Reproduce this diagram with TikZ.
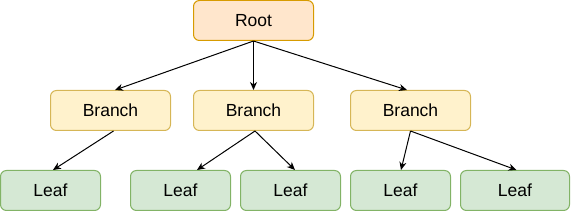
\documentclass[tikz,border=0pt]{standalone}
\usepackage{fontspec}
\setmainfont{Liberation Sans}
\usetikzlibrary{arrows.meta}
\definecolor{rootfill}{HTML}{FFE6CC}
\definecolor{rootdraw}{HTML}{D79B00}
\definecolor{brfill}{HTML}{FFF2CC}
\definecolor{brdraw}{HTML}{D6B656}
\definecolor{lffill}{HTML}{D5E8D4}
\definecolor{lfdraw}{HTML}{82B366}
\tikzset{
  box/.style={rectangle, rounded corners=6pt, line width=1pt, minimum height=40pt, inner sep=0pt, font=\fontsize{17.5}{20}\selectfont},
  rootbox/.style={box, fill=rootfill, draw=rootdraw, minimum width=120pt},
  branchbox/.style={box, fill=brfill, draw=brdraw, minimum width=120pt},
  leafbox/.style={box, fill=lffill, draw=lfdraw, minimum width=100pt},
  conn/.style={line width=1pt, -{Stealth[length=8pt,width=7pt,inset=2.5pt]}}
}
\begin{document}
\begin{tikzpicture}[x=1pt,y=-1pt]
\useasboundingbox (0,0) rectangle (571,211);
\node[rootbox] (root) at (253.5,20.5) {Root};
\node[branchbox] (b1) at (110.5,110.5) {Branch};
\node[branchbox] (b2) at (253.5,110.5) {Branch};
\node[branchbox] (b3) at (410.5,110.5) {Branch};
\node[leafbox] (l1) at (50.5,190.5) {Leaf};
\node[leafbox] (l2) at (180.5,190.5) {Leaf};
\node[leafbox] (l3) at (290.5,190.5) {Leaf};
\node[leafbox] (l4) at (400.5,190.5) {Leaf};
\node[leafbox, minimum width=109pt] (l5) at (515,190.5) {Leaf};
\draw[conn] (root.south) -- ([xshift=4.5pt]b1.north);
\draw[conn] (root.south) -- (b2.north);
\draw[conn] (root.south) -- ([xshift=-3.5pt]b3.north);
\draw[conn] ([xshift=3pt]b1.south) -- ([xshift=2.5pt]l1.north);
\draw[conn] ([xshift=1.5pt]b2.south) -- ([xshift=16.5pt]l2.north);
\draw[conn] ([xshift=1.5pt]b2.south) -- ([xshift=4.5pt]l3.north);
\draw[conn] (b3.south) -- ([xshift=0.5pt]l4.north);
\draw[conn] (b3.south) -- ([xshift=1.5pt]l5.north);
\end{tikzpicture}
\end{document}
